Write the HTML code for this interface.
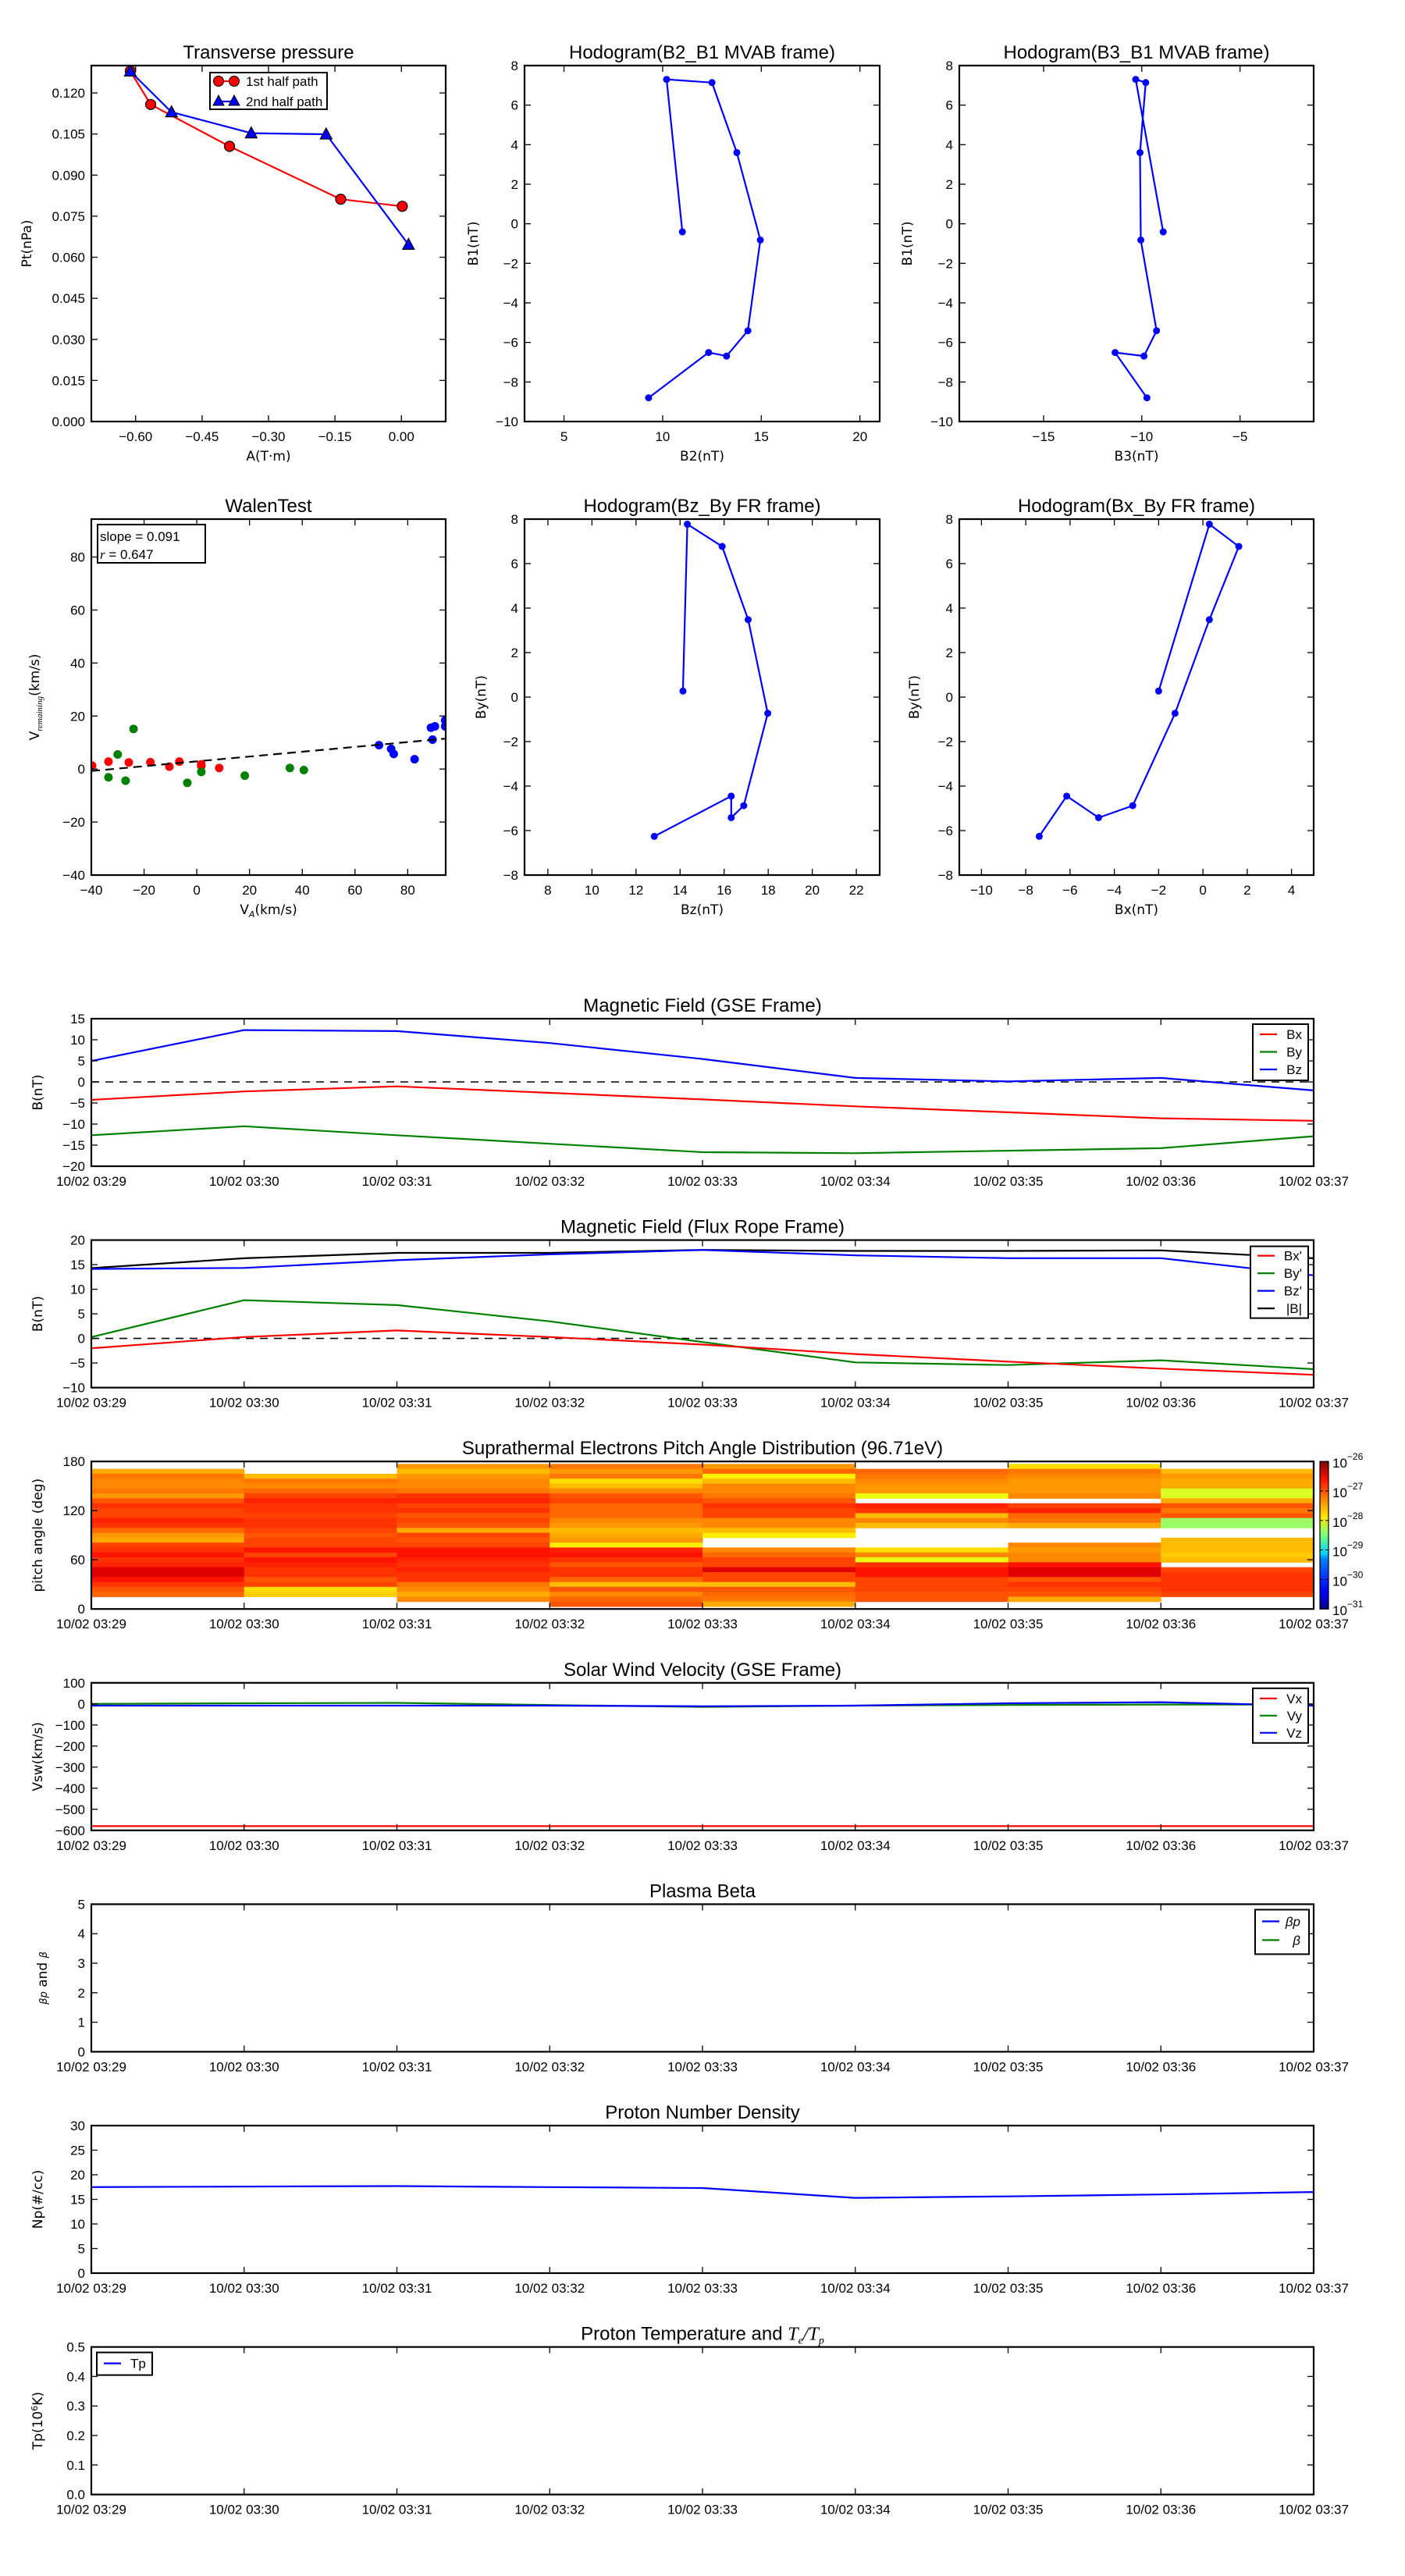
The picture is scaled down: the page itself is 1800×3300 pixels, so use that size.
<!DOCTYPE html>
<html><head><meta charset="utf-8">
<style>
html,body{margin:0;padding:0;background:#fff;}
svg{display:block;}
text{font-family:"Liberation Sans","DejaVu Sans",sans-serif;fill:#000;}
.tick{font-size:17px;}
.ttl{font-size:24px;}
.lbl{font-family:"DejaVu Sans","Liberation Sans",sans-serif;font-size:17px;}
</style></head>
<body>
<svg id="fig" xmlns="http://www.w3.org/2000/svg" width="1800" height="3300" viewBox="0 0 1800 3300">
<defs>
<linearGradient id="jetgrad" x1="0" y1="1" x2="0" y2="0">
<stop offset="0" stop-color="#00007f"/><stop offset="0.11" stop-color="#0000ff"/><stop offset="0.125" stop-color="#0000ff"/>
<stop offset="0.34" stop-color="#0080ff"/><stop offset="0.375" stop-color="#00d4ff"/><stop offset="0.5" stop-color="#7dff7a"/>
<stop offset="0.625" stop-color="#ffe600"/><stop offset="0.75" stop-color="#ff8000"/><stop offset="0.875" stop-color="#ff1400"/>
<stop offset="1" stop-color="#7f0000"/>
</linearGradient>
</defs>
</svg>
<script>
// ---------------- DATA ----------------
const ptRedA = [-0.612,-0.566,-0.388,-0.137,0.002];
const ptRedP = [0.1280,0.1158,0.1005,0.0812,0.0786];
const ptBlueA = [-0.612,-0.519,-0.339,-0.170,0.016];
const ptBlueP = [0.1279,0.1130,0.1053,0.1049,0.0646];

const mvB2 = [11.0,10.2,12.5,13.76,14.95,14.32,13.24,12.33,9.29];
const mvB1 = [-0.41,7.30,7.14,3.60,-0.82,-5.41,-6.69,-6.51,-8.80];
const mvB3 = [-8.91,-10.31,-9.80,-10.09,-10.05,-9.25,-9.89,-11.36,-9.74];

const walenRedX = [-39.7,-33.5,-25.8,-17.6,-10.4,-6.6,1.7,1.7,8.5];
const walenRedY = [1.3,2.8,2.5,2.6,0.9,2.8,1.8,1.1,0.4];
const walenGreenX = [-33.5,-30.0,-27.0,-24.0,-3.6,1.7,18.2,35.3,40.6];
const walenGreenY = [-3.1,5.5,-4.4,15.1,-5.2,-1.1,-2.5,0.4,-0.4];
const walenBlueX = [69.1,73.7,74.7,82.6,88.8,90.3,89.4,94.2,94.2];
const walenBlueY = [9.0,7.6,5.7,3.7,15.6,16.1,11.1,18.4,16.1];
const walenSlope = 0.091;
const walenIntercept = 2.9;

const frBx = [-2.0,0.29,1.62,0.29,-1.26,-3.17,-4.71,-6.15,-7.39];
const frBy = [0.27,7.77,6.77,3.48,-0.73,-4.88,-5.42,-4.45,-6.26];
const frBz = [14.13,14.33,15.91,17.09,17.98,16.89,16.32,16.32,12.83];
const frBmag = [14.3,16.3,17.4,17.4,18.0,17.8,17.8,17.9,16.3];

const timeLabels = ["10/02 03:29","10/02 03:30","10/02 03:31","10/02 03:32","10/02 03:33","10/02 03:34","10/02 03:35","10/02 03:36","10/02 03:37"];
const timeMin = [0,1,2,3,4,5,6,7,8];

const gseBx = [-4.26,-2.25,-1.06,-2.6,-4.14,-5.79,-7.21,-8.63,-9.22];
const gseBy = [-12.65,-10.52,-12.65,-14.66,-16.67,-16.91,-16.32,-15.73,-12.89];
const gseBz = [4.97,12.3,12.06,9.22,5.44,0.95,0.12,0.95,-2.01];

const vx = [-580,-580,-580,-580,-580,-580,-580,-580,-580];
const vy = [0,3,5,-5,-14,-8,-5,-3,-3];
const vz = [-8,-8,-8,-8,-11,-8,3,8,-8];

const np = [17.5,17.6,17.7,17.5,17.3,15.3,15.6,16.0,16.5];

// pitch angle bins (top to bottom), centers in degrees
const padCenters = [174.0,168.0,162.0,156.0,150.0,144.0,138.0,132.0,126.0,120.0,114.0,108.0,102.0,96.0,90.0,84.0,78.0,72.0,66.0,60.0,54.0,48.0,42.0,36.0,30.0,24.0,18.0,12.0,6.0];
const pad0 = [null,-27.46,-27.21,-27.29,-27.29,-27.21,-27.37,-27.04,-26.87,-26.96,-26.96,-26.79,-26.87,-27.13,-27.37,-27.46,-26.96,-26.87,-26.72,-26.87,-26.79,-26.48,-26.48,-26.72,-26.87,-27.04,-27.13,null,null];
const pad1 = [null,null,-27.54,-27.21,-27.29,-27.13,-26.96,-26.79,-26.87,-26.87,-26.96,-26.87,-26.87,-26.96,-27.04,-26.96,-26.96,-26.72,-26.96,-26.72,-26.79,-26.87,-26.87,-27.04,-26.96,-27.71,-27.63,null,null];
const pad2 = [-27.37,-27.54,-27.37,-27.29,-27.29,-27.21,-26.87,-26.79,-26.96,-26.87,-27.04,-26.96,-27.04,-27.46,-26.96,-27.04,-26.96,-26.72,-26.72,-26.79,-26.87,-26.79,-26.87,-26.87,-27.21,-27.29,-27.46,-27.29,null];
const pad3 = [-27.21,-27.37,-27.21,-27.71,-27.54,-27.29,-27.04,-26.96,-27.13,-27.13,-27.13,-27.29,-27.37,-27.54,-27.46,-27.37,-27.79,-26.79,-26.72,-26.87,-27.04,-26.87,-26.87,-27.13,-27.54,-27.04,-27.29,-27.13,-27.04];
const pad4 = [-27.37,-27.13,-27.79,-27.54,-27.29,-27.29,-27.21,-27.04,-26.87,-26.96,-26.96,-27.29,-27.29,-27.54,-27.79,null,null,-27.29,-27.13,-26.96,-26.96,-26.48,-26.96,-26.96,-27.54,-27.04,-27.13,-27.21,-27.46];
const pad5 = [null,-27.13,-27.21,-27.29,-27.37,-27.37,-27.96,null,-26.79,-26.87,-27.54,-27.29,-27.54,null,null,null,null,-27.71,-27.29,-27.96,-26.87,-26.72,-26.72,-26.96,-26.96,-26.96,-27.04,-27.04,null];
const pad6 = [-27.71,-27.21,-27.29,-27.37,-27.37,-27.37,-27.29,null,-26.96,-26.79,-27.13,-27.21,-27.46,null,null,null,-27.29,-27.37,-27.29,-27.29,-26.72,-26.48,-26.48,-27.04,-26.87,-26.96,-27.04,-27.46,null];
const pad7 = [null,-27.54,-27.37,-27.46,-27.46,-28.05,-28.05,-27.46,-27.04,-27.21,-27.04,-28.37,-28.37,null,null,-27.54,-27.54,-27.54,-27.63,-27.54,null,-26.96,-26.87,-26.87,-26.87,-26.87,-26.96,null,null];
const padCols = [pad0,pad1,pad2,pad3,pad4,pad5,pad6,pad7];
const cbarTicks = [-31,-30,-29,-28,-27,-26];

// ---------------- HELPERS ----------------
const NS = "http://www.w3.org/2000/svg";
const svg = document.getElementById('fig');
function mk(tag, attrs, parent){
  const e = document.createElementNS(NS, tag);
  for (const k in attrs) e.setAttribute(k, attrs[k]);
  (parent||svg).appendChild(e);
  return e;
}
function txt(s, x, y, cls, anchor, parent){
  const t = mk('text', {x:x, y:y, class:cls, 'text-anchor':anchor||'middle'}, parent);
  t.textContent = s;
  return t;
}
function fmtMinus(s){ return String(s).replace('-', '\u2212'); }
let clipId = 0;
function panel(o){
  const g = mk('g', {});
  
  
  const sx = v => o.x0 + (v - o.xmin) / (o.xmax - o.xmin) * (o.x1 - o.x0);
  const sy = v => o.y1 - (v - o.ymin) / (o.ymax - o.ymin) * (o.y1 - o.y0);
  const cid = 'clip' + (clipId++);
  const cp = mk('clipPath', {id: cid}, g);
  mk('rect', {x:o.x0, y:o.y0, width:o.x1-o.x0, height:o.y1-o.y0}, cp);
  const plot = mk('g', {'clip-path':'url(#'+cid+')'}, g);
  
  
  return {g, plot, sx, sy, o};
}
function finish(p){
  const o = p.o, g = p.g;
  const fr = mk('rect', {x:o.x0, y:o.y0, width:o.x1-o.x0, height:o.y1-o.y0, fill:'none', stroke:'#000', 'stroke-width':2.2}, g);
  
  
  const xa = mk('g', {}, g);
  
  
  o.xticks.forEach((v, i) => {
    const x = p.sx(v);
    mk('line', {x1:x, x2:x, y1:o.y1, y2:o.y1-8, stroke:'#000', 'stroke-width':1.3}, xa);
    mk('line', {x1:x, x2:x, y1:o.y0, y2:o.y0+8, stroke:'#000', 'stroke-width':1.3}, xa);
    const lab = o.xlabels ? o.xlabels[i] : fmtMinus(o.xfmt ? o.xfmt(v) : v);
    txt(lab, x, o.y1 + 25, 'tick', 'middle', xa);
  });
  const ya = mk('g', {}, g);
  
  
  o.yticks.forEach(v => {
    const y = p.sy(v);
    mk('line', {x1:o.x0, x2:o.x0+8, y1:y, y2:y, stroke:'#000', 'stroke-width':1.3}, ya);
    if (!o.noRightTicks) mk('line', {x1:o.x1, x2:o.x1-8, y1:y, y2:y, stroke:'#000', 'stroke-width':1.3}, ya);
    if (!o.noYLabels) txt(fmtMinus(o.yfmt ? o.yfmt(v) : v), o.x0 - 8, y + 6, 'tick', 'end', ya);
  });
  if (o.title){
    const t = txt(o.title, (o.x0+o.x1)/2, o.y0 - 9, 'ttl', 'middle', g);
    
    
  }
  if (o.xlabel){
    const t = txt(o.xlabel, (o.x0+o.x1)/2, o.y1 + 50, 'lbl', 'middle', g);
    
    
  }
  if (o.ylabel){
    const yx = o.ylabelX, yy = (o.y0+o.y1)/2;
    const t = txt(o.ylabel, yx, yy, 'lbl', 'middle', g);
    t.setAttribute('transform', 'rotate(-90 '+yx+' '+yy+')');
    
    
  }
}
function line(p, xs, ys, color, w, name, dash){
  const d = xs.map((x,i) => (i?'L':'M') + p.sx(x).toFixed(1) + ' ' + p.sy(ys[i]).toFixed(1)).join(' ');
  const a = {d:d, fill:'none', stroke:color, 'stroke-width':w||2.2, 'stroke-linejoin':'round'};
  if (dash) a['stroke-dasharray'] = dash;
  const e = mk('path', a, p.plot);
  
  
  return e;
}
function dots(p, xs, ys, color, r, name, stroke){
  const g = mk('g', {}, p.plot);
  
  
  xs.forEach((x,i) => {
    const c = mk('circle', {cx:p.sx(x), cy:p.sy(ys[i]), r:r, fill:color, stroke:stroke||'none', 'stroke-width':1.2}, g);
    
    
  });
}
function tris(p, xs, ys, color, name){
  const g = mk('g', {}, p.plot);
  
  
  xs.forEach((x,i) => {
    const cx = p.sx(x), cy = p.sy(ys[i]);
    const t = mk('polygon', {points:`${cx},${cy-8} ${cx-7.5},${cy+6} ${cx+7.5},${cy+6}`, fill:color, stroke:'#000', 'stroke-width':1.2}, g);
    
    
  });
}
function legend(x, y, w, h, entries, name, lineX0, lineX1, textX, anchor, step, first){
  const g = mk('g', {});
  
  
  mk('rect', {x:x, y:y, width:w, height:h, fill:'#fff', stroke:'#000', 'stroke-width':2}, g);
  entries.forEach((e, i) => {
    const yy = y + first + i*step;
    const eg = mk('g', {}, g);
    
    
    mk('line', {x1:x+lineX0, x2:x+lineX1, y1:yy, y2:yy, stroke:e.color, 'stroke-width':2.2}, eg);
    if (e.marker === 'o'){ mk('circle',{cx:x+lineX0,cy:yy,r:6.5,fill:e.color,stroke:'#000'},eg); mk('circle',{cx:x+lineX1,cy:yy,r:6.5,fill:e.color,stroke:'#000'},eg); }
    if (e.marker === '^'){ [x+lineX0,x+lineX1].forEach(cx=>mk('polygon',{points:`${cx},${yy-8} ${cx-7},${yy+5} ${cx+7},${yy+5}`,fill:e.color,stroke:'#000'},eg)); }
    const t = txt(e.label, x + textX, yy + 6, 'tick', anchor || 'start', eg);
    if (e.italic) t.setAttribute('font-style','italic');
  });
  return g;
}
function jet(v){
  const t = Math.max(0, Math.min(1, (v + 31) / 5));
  const c = f => Math.round(255 * Math.max(0, Math.min(1, f)));
  return `rgb(${c(1.5-Math.abs(4*t-3))},${c(1.5-Math.abs(4*t-2))},${c(1.5-Math.abs(4*t-1))})`;
}

// ---------------- TOP ROW ----------------
const R1 = [84, 540], R2 = [665, 1121];
const C1 = [117, 571], C2 = [672, 1127], C3 = [1229, 1683];

// Transverse pressure
let p = panel({name:'transverse-pressure-panel', x0:C1[0], x1:C1[1], y0:R1[0], y1:R1[1], xmin:-0.7, xmax:0.1, ymin:0, ymax:0.13,
  xticks:[-0.6,-0.45,-0.3,-0.15,0], xfmt:v=>v.toFixed(2), yticks:[0,0.015,0.03,0.045,0.06,0.075,0.09,0.105,0.12], yfmt:v=>v.toFixed(3),
  title:'Transverse pressure', xlabel:'A(T·m)', ylabel:'Pt(nPa)', ylabelX:40});
line(p, ptRedA, ptRedP, '#f00', 2.2, 'first-half-path-line');
line(p, ptBlueA, ptBlueP, '#00f', 2.2, 'second-half-path-line');
dots(p, ptRedA, ptRedP, '#f00', 6.5, 'first-half-path-markers', '#000');
tris(p, ptBlueA, ptBlueP, '#00f', 'second-half-path-markers');
finish(p);
legend(269, R1[0]+9, 150, 47, [{key:'1st-half',label:'1st half path',color:'#f00',marker:'o'},{key:'2nd-half',label:'2nd half path',color:'#00f',marker:'^'}], 'transverse-pressure-legend', 11, 31, 46, 'start', 26, 11);

// Hodogram B2_B1
p = panel({name:'hodogram-b2-b1-panel', x0:C2[0], x1:C2[1], y0:R1[0], y1:R1[1], xmin:3, xmax:21, ymin:-10, ymax:8,
  xticks:[5,10,15,20], yticks:[-10,-8,-6,-4,-2,0,2,4,6,8], title:'Hodogram(B2_B1 MVAB frame)', xlabel:'B2(nT)', ylabel:'B1(nT)', ylabelX:612});
line(p, mvB2, mvB1, '#00f', 2.2, 'b2-b1-hodogram-line');
dots(p, mvB2, mvB1, '#00f', 4.5, 'b2-b1-hodogram-points');
finish(p);

// Hodogram B3_B1
p = panel({name:'hodogram-b3-b1-panel', x0:C3[0], x1:C3[1], y0:R1[0], y1:R1[1], xmin:-19.29, xmax:-1.25, ymin:-10, ymax:8,
  xticks:[-15,-10,-5], yticks:[-10,-8,-6,-4,-2,0,2,4,6,8], title:'Hodogram(B3_B1 MVAB frame)', xlabel:'B3(nT)', ylabel:'B1(nT)', ylabelX:1168});
line(p, mvB3, mvB1, '#00f', 2.2, 'b3-b1-hodogram-line');
dots(p, mvB3, mvB1, '#00f', 4.5, 'b3-b1-hodogram-points');
finish(p);

// Walen test
p = panel({name:'walen-test-panel', x0:C1[0], x1:C1[1], y0:R2[0], y1:R2[1], xmin:-40, xmax:94.4, ymin:-40, ymax:94.3,
  xticks:[-40,-20,0,20,40,60,80], yticks:[-40,-20,0,20,40,60,80], title:'WalenTest'});
dots(p, walenRedX, walenRedY, '#f00', 5.5, 'walen-red-points');
dots(p, walenGreenX, walenGreenY, '#008000', 5.5, 'walen-green-points');
dots(p, walenBlueX, walenBlueY, '#00f', 5.5, 'walen-blue-points');
line(p, [-40, 94.4], [walenSlope*-40+walenIntercept, walenSlope*94.4+walenIntercept], '#000', 2.2, 'walen-fit-line', '11,7');
finish(p);
{
  const g = mk('g', {});
  
  
  mk('rect', {x:125, y:R2[0]+7, width:138, height:49, fill:'#fff', stroke:'#000', 'stroke-width':2}, g);
  txt('slope = 0.091', 128, R2[0]+28, 'tick', 'start', g);
  const t = txt('', 128, R2[0]+51, 'tick', 'start', g);
  t.innerHTML = '<tspan font-family="Liberation Serif" font-style="italic">r</tspan> = 0.647';
  const xl = txt('', 344, R2[1]+50, 'lbl', 'middle');
  xl.innerHTML = 'V<tspan font-size="11" dy="4" font-style="italic">A</tspan><tspan dy="-4">(km/s)</tspan>';
  
  
  const yy = (R2[0]+R2[1])/2;
  const yl = txt('', 50, yy, 'lbl', 'middle');
  yl.innerHTML = 'V<tspan font-size="11" dy="4" font-style="italic" font-family="Liberation Serif">remaining</tspan><tspan dy="-4">(km/s)</tspan>';
  yl.setAttribute('transform', 'rotate(-90 50 '+yy+')');
  
  
}

// Hodogram Bz_By
p = panel({name:'hodogram-bz-by-panel', x0:C2[0], x1:C2[1], y0:R2[0], y1:R2[1], xmin:6.94, xmax:23.06, ymin:-8, ymax:8,
  xticks:[8,10,12,14,16,18,20,22], yticks:[-8,-6,-4,-2,0,2,4,6,8], title:'Hodogram(Bz_By FR frame)', xlabel:'Bz(nT)', ylabel:'By(nT)', ylabelX:622});
line(p, frBz, frBy, '#00f', 2.2, 'bz-by-hodogram-line');
dots(p, frBz, frBy, '#00f', 4.5, 'bz-by-hodogram-points');
finish(p);

// Hodogram Bx_By
p = panel({name:'hodogram-bx-by-panel', x0:C3[0], x1:C3[1], y0:R2[0], y1:R2[1], xmin:-11, xmax:5, ymin:-8, ymax:8,
  xticks:[-10,-8,-6,-4,-2,0,2,4], yticks:[-8,-6,-4,-2,0,2,4,6,8], title:'Hodogram(Bx_By FR frame)', xlabel:'Bx(nT)', ylabel:'By(nT)', ylabelX:1177});
line(p, frBx, frBy, '#00f', 2.2, 'bx-by-hodogram-line');
dots(p, frBx, frBy, '#00f', 4.5, 'bx-by-hodogram-points');
finish(p);

// ---------------- TIME SERIES ----------------
const TS_X0 = 117, TS_X1 = 1683, TS_H = 189;
function tsTop(i){ return 1305 + 283.6 * i; }
function tsPanel(i, name, ymin, ymax, yticks, title, ylabel, yfmt){
  const y0 = tsTop(i);
  return panel({name:name, x0:TS_X0, x1:TS_X1, y0:y0, y1:y0+TS_H, xmin:0, xmax:8, ymin:ymin, ymax:ymax,
    xticks:timeMin, xlabels:timeLabels, yticks:yticks, yfmt:yfmt, title:title, ylabel:ylabel, ylabelX:54});
}

// GSE field
p = tsPanel(0, 'magnetic-field-gse-panel', -20, 15, [-20,-15,-10,-5,0,5,10,15], 'Magnetic Field (GSE Frame)', 'B(nT)');
line(p, [0,8], [0,0], '#000', 1.6, 'gse-zero-line', '10,8');
line(p, timeMin, gseBx, '#f00', 2.2, 'gse-bx-line');
line(p, timeMin, gseBy, '#008000', 2.2, 'gse-by-line');
line(p, timeMin, gseBz, '#00f', 2.2, 'gse-bz-line');
finish(p);
legend(1605, tsTop(0)+7, 71, 72, [{key:'bx',label:'Bx',color:'#f00'},{key:'by',label:'By',color:'#008000'},{key:'bz',label:'Bz',color:'#00f'}], 'gse-legend', 9, 31, 63, 'end', 22.5, 13);

// Flux rope field
p = tsPanel(1, 'magnetic-field-flux-rope-panel', -10, 20, [-10,-5,0,5,10,15,20], 'Magnetic Field (Flux Rope Frame)', 'B(nT)');
line(p, [0,8], [0,0], '#000', 1.6, 'fr-zero-line', '10,8');
line(p, timeMin, frBmag, '#000', 2.2, 'fr-bmag-line');
line(p, timeMin, frBz, '#00f', 2.2, 'fr-bz-line');
line(p, timeMin, frBy, '#008000', 2.2, 'fr-by-line');
line(p, timeMin, frBx, '#f00', 2.2, 'fr-bx-line');
finish(p);
legend(1602, tsTop(1)+8, 74, 92, [{key:'bx',label:"Bx'",color:'#f00'},{key:'by',label:"By'",color:'#008000'},{key:'bz',label:"Bz'",color:'#00f'},{key:'bmag',label:'|B|',color:'#000'}], 'flux-rope-legend', 9, 31, 66, 'end', 22.5, 12);

// Pitch angle distribution
p = tsPanel(2, 'pitch-angle-distribution-panel', 0, 180, [0,60,120,180], 'Suprathermal Electrons Pitch Angle Distribution (96.71eV)', 'pitch angle (deg)');
padCols.forEach((col, ci) => {
  col.forEach((v, bi) => {
    if (v === null) return;
    const c = padCenters[bi];
    const y1 = p.sy(c + 3), y2 = p.sy(c - 3);
    const r = mk('rect', {x:p.sx(timeMin[ci]), y:y1, width:p.sx(timeMin[ci]+1)-p.sx(timeMin[ci])+0.5, height:y2-y1+0.5, fill:jet(v)}, p.plot);
    
    
  });
});
finish(p);
{
  const y0 = tsTop(2), y1 = y0 + TS_H;
  const g = mk('g', {});
  
  
  mk('rect', {x:1691, y:y0, width:11, height:TS_H, fill:'url(#jetgrad)', stroke:'#000', 'stroke-width':1.2}, g);
  cbarTicks.forEach(v => {
    const y = y1 - (v + 31) / 5 * TS_H;
    mk('line', {x1:1691, x2:1695, y1:y, y2:y, stroke:'#000'}, g);
    mk('line', {x1:1698, x2:1702, y1:y, y2:y, stroke:'#000'}, g);
    const t = txt('', 1707, y + 8, 'tick', 'start', g);
    t.innerHTML = '10<tspan font-size="12" dy="-10">' + fmtMinus(v) + '</tspan>';
  });
}

// Solar wind velocity
p = tsPanel(3, 'solar-wind-velocity-panel', -600, 100, [-600,-500,-400,-300,-200,-100,0,100], 'Solar Wind Velocity (GSE Frame)', 'Vsw(km/s)');
line(p, timeMin, vx, '#f00', 2.2, 'vx-line');
line(p, timeMin, vy, '#008000', 2.2, 'vy-line');
line(p, timeMin, vz, '#00f', 2.2, 'vz-line');
finish(p);
legend(1605, tsTop(3)+7, 71, 70, [{key:'vx',label:'Vx',color:'#f00'},{key:'vy',label:'Vy',color:'#008000'},{key:'vz',label:'Vz',color:'#00f'}], 'velocity-legend', 9, 31, 63, 'end', 22, 13);

// Plasma beta
p = tsPanel(4, 'plasma-beta-panel', 0, 5, [0,1,2,3,4,5], 'Plasma Beta', '');
finish(p);
legend(1608, tsTop(4)+7, 69, 57, [{key:'beta-p',label:'βp',color:'#00f',italic:true},{key:'beta',label:'β',color:'#008000',italic:true}], 'plasma-beta-legend', 9, 31, 58, 'end', 24, 15);
{
  const yy = tsTop(4) + TS_H/2;
  const t = txt('', 60, yy, 'lbl', 'middle');
  t.innerHTML = '<tspan font-style="italic" font-size="13">βp</tspan> and <tspan font-style="italic" font-size="13">β</tspan>';
  t.setAttribute('transform', 'rotate(-90 60 '+yy+')');
  
  
}

// Proton density
p = tsPanel(5, 'proton-density-panel', 0, 30, [0,5,10,15,20,25,30], 'Proton Number Density', 'Np(#/cc)');
line(p, timeMin, np, '#00f', 2.2, 'np-line');
finish(p);

// Proton temperature
p = tsPanel(6, 'proton-temperature-panel', 0, 0.5, [0,0.1,0.2,0.3,0.4,0.5], '', '', v=>v.toFixed(1));
finish(p);
{
  const t = txt('', 900, tsTop(6) - 9, 'ttl', 'middle');
  t.innerHTML = 'Proton Temperature and <tspan font-family="Liberation Serif" font-style="italic">T<tspan font-size="14" dy="5">e</tspan><tspan dy="-5">/T</tspan><tspan font-size="14" dy="5">p</tspan></tspan>';
  
  
  const yy = tsTop(6) + TS_H/2;
  const yl = txt('', 54, yy, 'lbl', 'middle');
  yl.innerHTML = 'Tp(10<tspan font-size="11" dy="-6">6</tspan><tspan dy="6">K)</tspan>';
  yl.setAttribute('transform', 'rotate(-90 54 '+yy+')');
  
  
}
legend(124, tsTop(6)+7, 71, 29, [{key:'tp',label:'Tp',color:'#00f'}], 'proton-temperature-legend', 9, 31, 43, 'start', 0, 14);
</script>
</body></html>
